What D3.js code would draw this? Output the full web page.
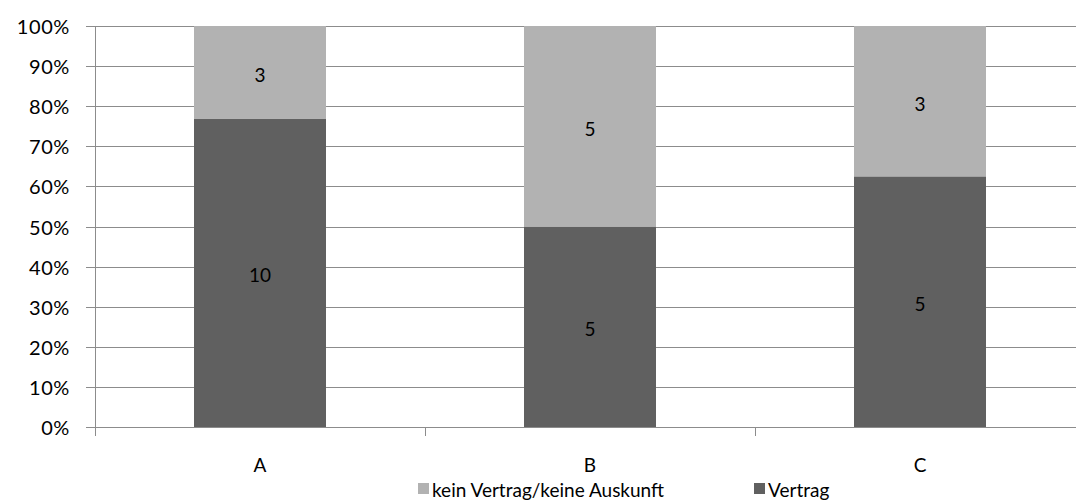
<!DOCTYPE html>
<html>
<head>
<meta charset="utf-8">
<script src="https://cdn.jsdelivr.net/npm/d3@7"></script>
<style>
  html, body { margin: 0; padding: 0; background: #fff; }
  svg { display: block; }
  text { font-family: Lato, "Open Sans", sans-serif; fill: #000; }
</style>
</head>
<body>
<svg id="chart" width="1076" height="501"></svg>
<script>
// Categories and counts per group
const categories = ["A", "B", "C"];
const vertrag = [10, 5, 5];
const keinVertrag = [3, 5, 3];
const seriesNames = ["kein Vertrag/keine Auskunft", "Vertrag"];
const yTicks = [0, 0.1, 0.2, 0.3, 0.4, 0.5, 0.6, 0.7, 0.8, 0.9, 1.0];

const colors = { "Vertrag": "#606060", "kein Vertrag/keine Auskunft": "#b2b2b2" };

const svg = d3.select("#chart");
const margin = { left: 95, top: 26, right: -9, bottom: 74 };
const W = 1076, H = 501;
const plotW = W - margin.left - margin.right;
const plotH = H - margin.top - margin.bottom;

const x = d3.scaleBand().domain(categories).range([margin.left, margin.left + plotW])
  .paddingInner(0.6).paddingOuter(0.3);
const y = d3.scaleLinear().domain([0, 1]).range([margin.top + plotH, margin.top]);

// Stack the shares (Vertrag at bottom)
const rows = categories.map((c, i) => ({ cat: c, "Vertrag": vertrag[i], "kein Vertrag/keine Auskunft": keinVertrag[i] }));
const stack = d3.stack().keys(["Vertrag", "kein Vertrag/keine Auskunft"]).offset(d3.stackOffsetExpand);
const layers = stack(rows);

// Gridlines
svg.append("g").selectAll("line").data(yTicks).join("line")
  .attr("x1", margin.left - 9).attr("x2", W)
  .attr("y1", d => Math.round(y(d)) + 0.5).attr("y2", d => Math.round(y(d)) + 0.5)
  .attr("stroke", "#8c8c8c").attr("stroke-width", 1);

// Y axis line
svg.append("line")
  .attr("x1", margin.left + 0.5).attr("x2", margin.left + 0.5)
  .attr("y1", margin.top).attr("y2", y(0) + 9)
  .attr("stroke", "#8c8c8c");

// Category tick marks on the bottom axis
const boundaries = categories.map(c => x(c) - (x.step() - x.bandwidth()) / 2).concat([margin.left + plotW]);
svg.append("g").selectAll("line").data(boundaries).join("line")
  .attr("x1", d => Math.round(d) + 0.5).attr("x2", d => Math.round(d) + 0.5)
  .attr("y1", y(0)).attr("y2", y(0) + 9)
  .attr("stroke", "#8c8c8c");

// Y tick labels
svg.append("g").selectAll("text").data(yTicks).join("text")
  .attr("x", 70).attr("y", d => y(d))
  .attr("text-anchor", "end").attr("dominant-baseline", "central")
  .style("font-size", "20px").style("letter-spacing", "0.6px")
  .text(d => d3.format(".0%")(d));

// Bars
const g = svg.append("g");
layers.forEach(layer => {
  g.append("g").selectAll("rect").data(layer).join("rect")
    .attr("x", d => x(d.data.cat))
    .attr("width", x.bandwidth())
    .attr("y", d => y(d[1]))
    .attr("height", d => y(d[0]) - y(d[1]))
    .attr("fill", colors[layer.key]);
  g.append("g").selectAll("text").data(layer).join("text")
    .attr("x", d => x(d.data.cat) + x.bandwidth() / 2)
    .attr("y", d => (y(d[0]) + y(d[1])) / 2 + 2)
    .attr("text-anchor", "middle").attr("dominant-baseline", "central")
    .style("font-size", "19px")
    .text(d => d.data[layer.key]);
});

// Category labels
svg.append("g").selectAll("text").data(categories).join("text")
  .attr("x", d => x(d) + x.bandwidth() / 2).attr("y", 464)
  .attr("text-anchor", "middle").attr("dominant-baseline", "central")
  .style("font-size", "19px")
  .text(d => d);

// Legend
const legendItems = [
  { name: seriesNames[0], x: 418 },
  { name: seriesNames[1], x: 754 }
];
const lg = svg.append("g");
legendItems.forEach(it => {
  lg.append("rect").attr("x", it.x).attr("y", 483).attr("width", 11).attr("height", 11)
    .attr("fill", colors[it.name]);
  lg.append("text").attr("x", it.x + 14).attr("y", 489)
    .attr("dominant-baseline", "central")
    .style("font-size", "19px")
    .text(it.name);
});
</script>
</body>
</html>
